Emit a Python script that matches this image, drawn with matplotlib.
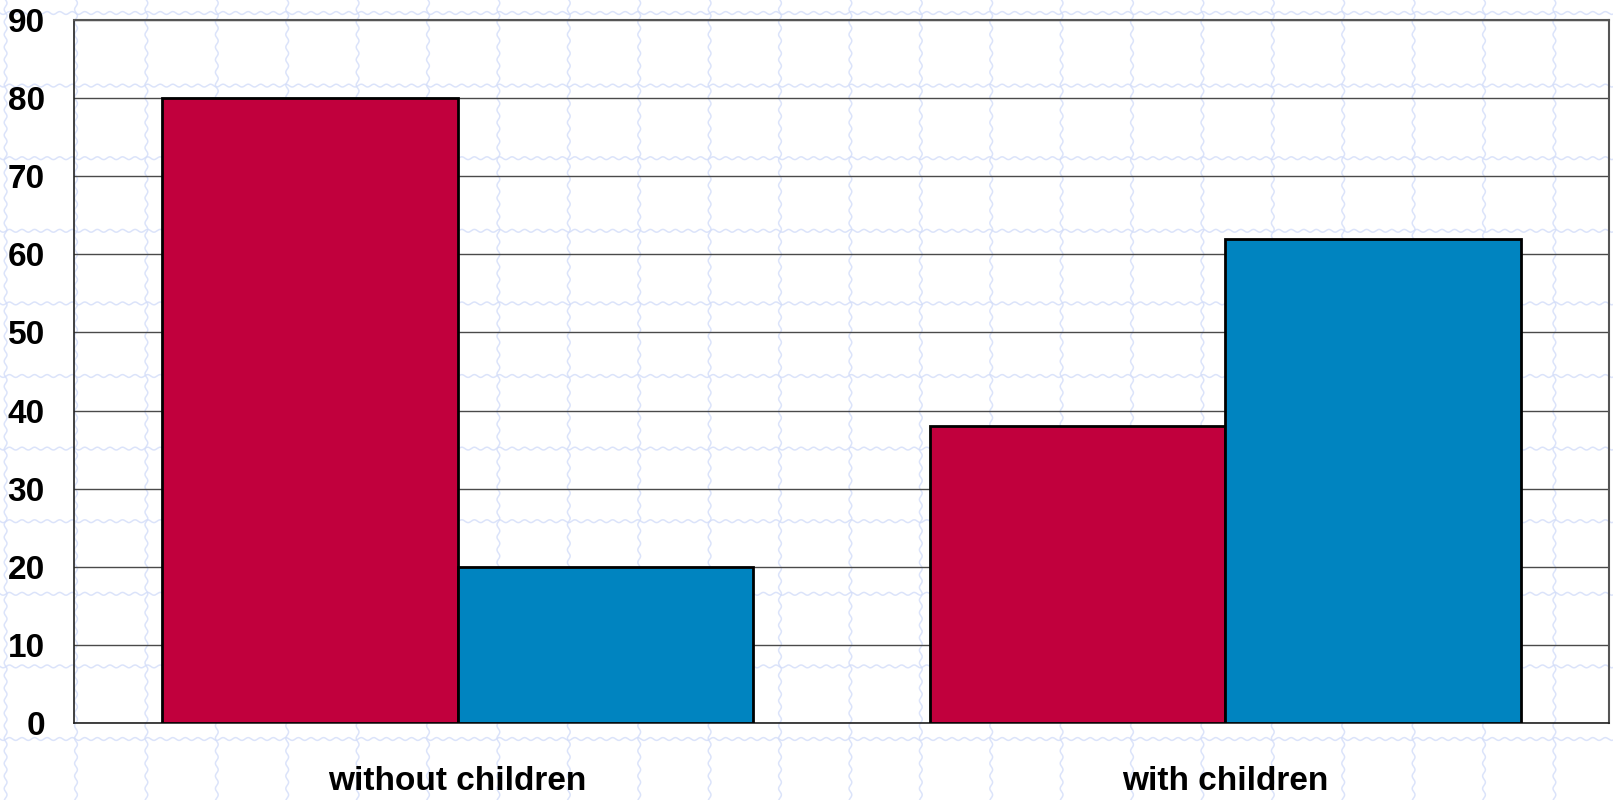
import numpy as np
import matplotlib
matplotlib.use("Agg")
import matplotlib.pyplot as plt

# data
categories = ["without children", "with children"]
red_vals = [80, 38]
blue_vals = [20, 62]
y_ticks = [0, 10, 20, 30, 40, 50, 60, 70, 80, 90]

RED = "#c1003d"
BLUE = "#0084c0"

plt.rcParams['font.family'] = ['Liberation Sans', 'DejaVu Sans']

W, H = 1613, 800
fig = plt.figure(figsize=(W / 100, H / 100), dpi=100)

# graph-paper background (pixel coordinates)
bg = fig.add_axes([0, 0, 1, 1], zorder=-10)
bg.set_xlim(0, W)
bg.set_ylim(H, 0)
bg.axis("off")
paper = "#d3ddf9"
t = np.linspace(0, W, 1600)
for yy in np.arange(13, H, 72.6):
    bg.plot(t, yy + 1.4 * np.sin(t / 2.0), color=paper, lw=1.1, alpha=0.8)
s = np.linspace(0, H, 800)
for xx in np.arange(5.6, W, 70.4):
    bg.plot(xx + 1.4 * np.sin(s / 2.0), s, color=paper, lw=1.1, alpha=0.8)

ax = fig.add_axes([74 / W, 1 - 723 / H, (1609 - 74) / W, (723 - 20) / H])
ax.patch.set_alpha(0)

x = np.arange(len(categories))
bw = 0.385
ax.bar(x - bw / 2, red_vals, bw, color=RED, edgecolor="black", linewidth=2, zorder=3)
ax.bar(x + bw / 2, blue_vals, bw, color=BLUE, edgecolor="black", linewidth=2, zorder=3)

ax.set_xlim(-0.5, 1.5)
ax.set_ylim(0, 90)
ax.set_yticks(y_ticks)
ax.set_xticks(x)
ax.set_xticklabels(categories)
ax.yaxis.grid(True, color="#4a4a4a", linewidth=1.0, zorder=1)
ax.set_axisbelow(True)

ax.tick_params(axis="y", length=0, pad=21, labelsize=24)
ax.tick_params(axis="x", length=0, pad=31, labelsize=24)
for lab in ax.get_xticklabels() + ax.get_yticklabels():
    lab.set_fontweight("bold")

for side in ["left", "bottom"]:
    ax.spines[side].set_color("#222222")
    ax.spines[side].set_linewidth(1.2)
for side in ["top", "right"]:
    ax.spines[side].set_color("#555555")
    ax.spines[side].set_linewidth(1.5)

fig.savefig("out.png", dpi=100)
